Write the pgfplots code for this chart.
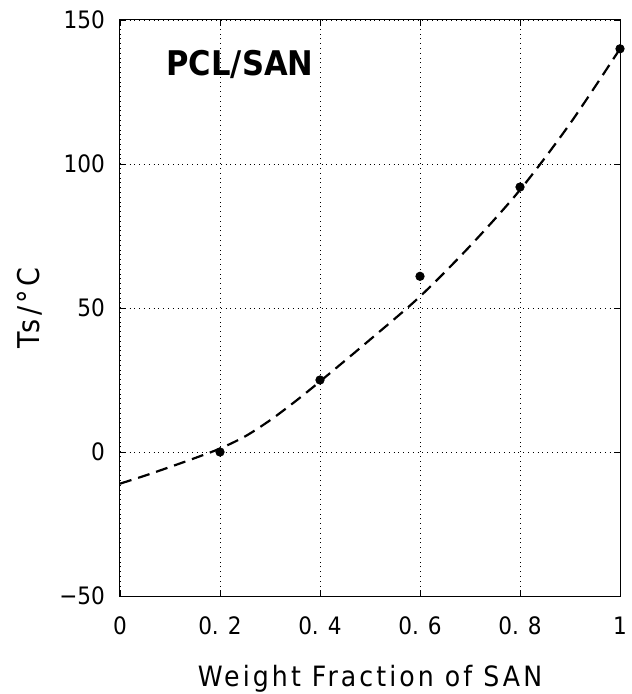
\documentclass[border=0pt]{standalone}
\usepackage{fontspec}
\setmainfont{DejaVu Sans Condensed}
\newfontfamily\labfont[LetterSpace=11]{DejaVu Sans Condensed}
\usepackage{pgfplots}
\pgfplotsset{compat=1.18}

\begin{document}
\begin{tikzpicture}
\begin{axis}[
    name=ax,
    scale only axis,
    width=250pt, height=288pt,
    xmin=0, xmax=1, ymin=-50, ymax=150,
    xtick={0,0.2,0.4,0.6,0.8,1},
    xticklabels={0,0. 2,0. 4,0. 6,0. 8,1},
    ytick={-50,0,50,100,150},
    yticklabels={−50,0,50,100,150},
    tick align=inside,
    major tick length=3pt,
    tick style={black, line width=0.4pt},
    axis line style={black, line width=0.5pt},
    grid=major,
    grid style={black, dotted, line width=0.4pt},
    ticklabel style={font=\fontsize{12}{14}\selectfont},
    xticklabel style={yshift=-7pt},
    yticklabel style={xshift=-4pt},
    xlabel={Weight Fraction of SAN},
    ylabel={Ts/°C},
    xlabel style={font=\fontsize{14}{16}\labfont, at={(axis description cs:0.5,-0.143)}, anchor=center},
    ylabel style={font=\fontsize{15}{17}\labfont, at={(axis description cs:-0.18,0.5)}, anchor=center},
    clip=false,
]
\addplot[black, line width=1.1pt, dash pattern=on 6pt off 3.5pt, smooth, no marks]
  coordinates {(0,-11) (0.05,-8.2) (0.1,-5.2) (0.15,-2.1) (0.2,1.2) (0.25,5.4) (0.3,11) (0.35,17.5) (0.4,24.5) (0.5,39) (0.6,54) (0.7,71.5) (0.8,91) (0.9,114) (1.0,140)};
\addplot[only marks, mark=*, mark size=2.1pt, black]
  coordinates {(0.2,0) (0.4,25) (0.6,61) (0.8,92) (1.0,140)};
\node[font=\fontsize{17}{19}\bfseries\selectfont, anchor=center] at (rel axis cs:0.24,0.922) {PCL/SAN};
\end{axis}
\pgfresetboundingbox
\path[use as bounding box] ([shift={(-60pt,-49pt)}]ax.south west) rectangle ([shift={(5.5pt,10pt)}]ax.north east);
\end{tikzpicture}
\end{document}
